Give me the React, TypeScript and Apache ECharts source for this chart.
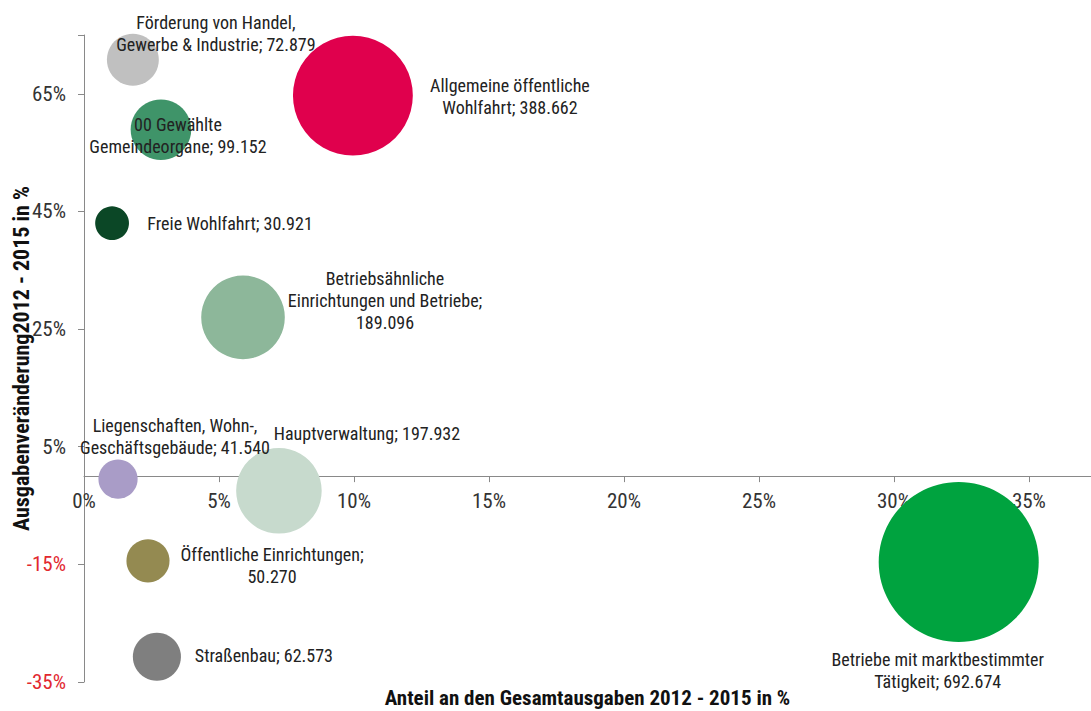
import React, { useEffect, useRef } from "react";
import * as echarts from "echarts";

// ---- data ----
const names: string[] = [
  "Förderung von Handel,\nGewerbe & Industrie",
  "Allgemeine öffentliche\nWohlfahrt",
  "00 Gewählte\nGemeindeorgane",
  "Freie Wohlfahrt",
  "Betriebsähnliche\nEinrichtungen und Betriebe",
  "Liegenschaften, Wohn-,\nGeschäftsgebäude",
  "Hauptverwaltung",
  "Betriebe mit marktbestimmter\nTätigkeit",
  "Öffentliche Einrichtungen",
  "Straßenbau",
];
// Anteil an den Gesamtausgaben 2012-2015 in %
const shares: number[] = [1.81, 9.96, 2.85, 1.04, 5.89, 1.26, 7.22, 32.4, 2.37, 2.7];
// Ausgabenveränderung 2012-2015 in %
const changes: number[] = [70.8, 64.7, 58.9, 43.0, 27.0, -0.5, -2.5, -14.6, -14.4, -30.7];
// Ausgaben (bubble size)
const volumes: number[] = [72879, 388662, 99152, 30921, 189096, 41540, 197932, 692674, 50270, 62573];
const colors: string[] = [
  "#c0c0c0", "#e0004d", "#3f9469", "#0b4726", "#8db79a",
  "#a99cc7", "#c7dacd", "#00a33f", "#948a51", "#7f7f7f",
];
const xTicks: number[] = [0, 5, 10, 15, 20, 25, 30, 35];
const yTicks: number[] = [-35, -15, 5, 25, 45, 65];
const X_MIN = 0;
const X_MAX = 37.3;
const Y_MIN = -35;
const Y_MAX = 75;

// ---- layout / style (not data) ----
const labelOffsets: number[][] = [
  [83, -26], [157, 1], [17, 6], [118, 0], [142, -17],
  [57, -43], [88, -57], [-21, 108], [124, 5], [107, -1],
];
const breakAfterSemicolon: boolean[] = [false, false, false, false, true, false, false, false, true, false];

const FONT = "'Liberation Sans Narrow', 'Arial Narrow', 'Roboto Condensed', sans-serif";
const W = 1091;
const H = 711;
const GRID = { left: 84, right: 0, top: 35, bottom: 29 };

const fmt = (v: number) => v.toLocaleString("de-DE");

export default function App() {
  const ref = useRef<HTMLDivElement>(null);
  useEffect(() => {
    if (!ref.current) return;
    const chart = echarts.init(ref.current, undefined, { renderer: "svg" });
    const plotH = H - GRID.top - GRID.bottom;
    // move the x axis up from the grid bottom to the y = 0 line
    const zeroOffset = -((0 - Y_MIN) / (Y_MAX - Y_MIN)) * plotH;
    const data = names.map((n, i) => ({
      name: n,
      value: [shares[i], changes[i], volumes[i]],
      itemStyle: { color: colors[i], opacity: 1 },
      label: {
        offset: labelOffsets[i],
        formatter: n + (breakAfterSemicolon[i] ? ";\n" : "; ") + fmt(volumes[i]),
      },
    }));
    chart.setOption({
      animation: false,
      backgroundColor: "#ffffff",
      grid: { ...GRID, containLabel: false, outerBoundsMode: "none" },
      xAxis: {
        type: "value",
        min: X_MIN,
        max: X_MAX,
        interval: 5,
        position: "bottom",
        offset: zeroOffset,
        name: "Anteil an den Gesamtausgaben 2012 - 2015 in %",
        nameLocation: "middle",
        nameGap: 211,
        nameMoveOverlap: false,
        nameTextStyle: { fontFamily: FONT, fontSize: 21, fontWeight: "bold", color: "#111" },
        axisLine: { show: true, onZero: false, lineStyle: { color: "#898989" } },
        axisTick: { show: true, length: 6, lineStyle: { color: "#898989" } },
        axisLabel: {
          fontFamily: FONT,
          fontSize: 21,
          color: "#333",
          margin: 14,
          formatter: (v: number) => (xTicks.includes(Math.round(v * 100) / 100) ? v + "%" : ""),
        },
        splitLine: { show: false },
      },
      yAxis: {
        type: "value",
        min: Y_MIN,
        max: Y_MAX,
        interval: 20,
        name: "Ausgabenveränderung2012 - 2015 in %",
        nameLocation: "middle",
        nameRotate: 90,
        nameGap: 52,
        nameMoveOverlap: false,
        nameTextStyle: { fontFamily: FONT, fontSize: 22, fontWeight: "bold", color: "#111" },
        axisLine: { show: true, onZero: false, lineStyle: { color: "#898989" } },
        axisTick: { show: true, length: 6, lineStyle: { color: "#898989" } },
        axisLabel: {
          fontFamily: FONT,
          fontSize: 21,
          margin: 18,
          color: (v: any) => (Number(v) < 0 ? "#e2282f" : "#333"),
          formatter: (v: number) => (yTicks.includes(v) ? v + "%" : ""),
        },
        splitLine: { show: false },
      },
      series: [
        {
          type: "scatter",
          data,
          symbol: "circle",
          symbolSize: (val: number[]) => 2 * 3.04 * Math.sqrt(val[2] / 1000),
          emphasis: { disabled: true },
          label: {
            show: true,
            position: "inside",
            align: "center",
            verticalAlign: "middle",
            fontFamily: FONT,
            fontSize: 18,
            lineHeight: 22,
            color: "#222",
          },
        },
      ],
    });
    return () => chart.dispose();
  }, []);
  return (
    <div
      ref={ref}
      style={{ position: "fixed", left: 0, top: 0, width: W, height: H, background: "#fff" }}
    />
  );
}
